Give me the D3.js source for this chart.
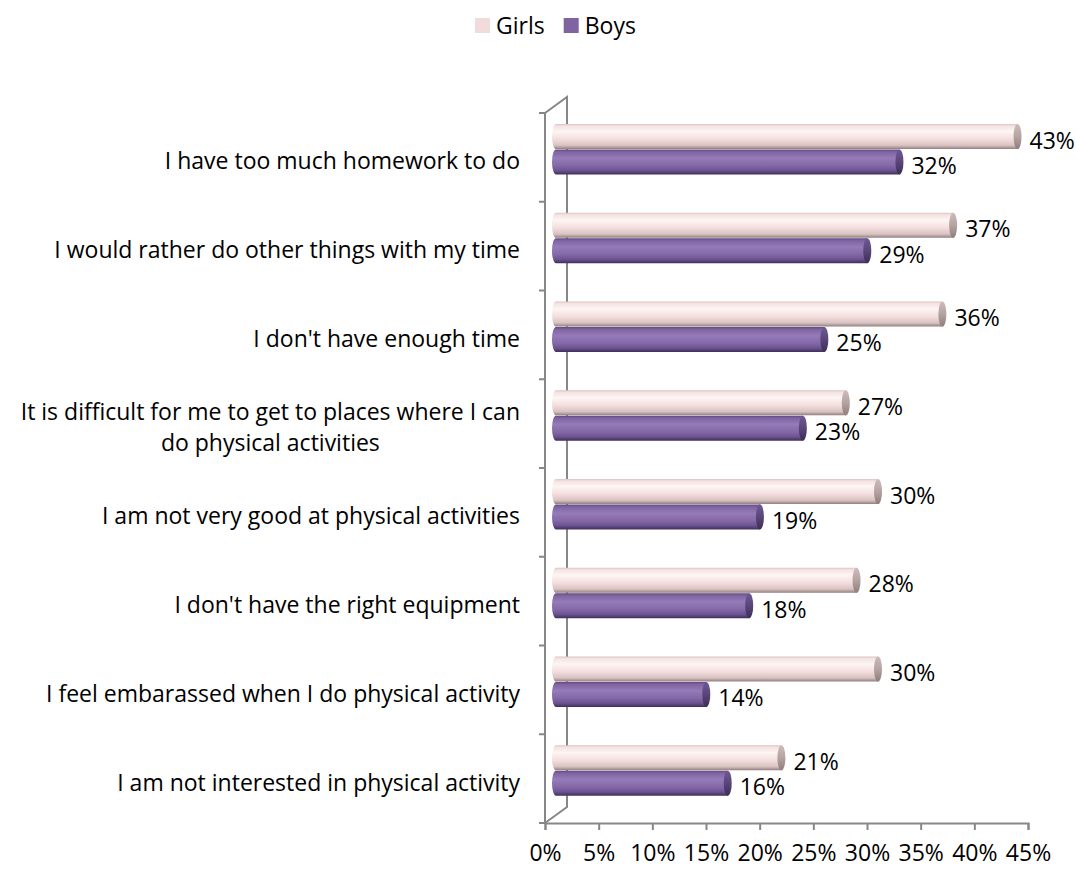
<!DOCTYPE html>
<html>
<head>
<meta charset="utf-8">
<script src="https://cdn.jsdelivr.net/npm/d3@7"></script>
<style>
  body { margin: 0; background: #fff; }
  svg text { font-family: 'Open Sans', sans-serif; fill: #000; }
</style>
</head>
<body>
<svg id="chart" width="1076" height="869"></svg>
<script>
// --- data ---
const categories = [
  'I have too much homework to do',
  'I would rather do other things with my time',
  "I don't have enough time",
  'It is difficult for me to get to places where I can|do physical activities',
  'I am not very good at physical activities',
  "I don't have the right equipment",
  'I feel embarassed when I do physical activity',
  'I am not interested in physical activity'
];
const series = ['Girls', 'Boys'];
const girls = [43, 37, 36, 27, 30, 28, 30, 21];
const boys = [32, 29, 25, 23, 19, 18, 14, 16];
const xTicks = [0, 5, 10, 15, 20, 25, 30, 35, 40, 45];

const values = { Girls: girls, Boys: boys };
const fontSize = 23;
const axisColor = '#878787';

const svg = d3.select('#chart');

// front plane scales, bars sit half way back, the wall all the way back
const x = d3.scaleLinear().domain([0, 45]).range([545, 1028]);
const y = d3.scaleBand().domain(categories).range([113, 823]);
const ySub = d3.scaleBand().domain(series).range([0, y.bandwidth()])
  .paddingInner(0).paddingOuter(0.75);
const wall = { dx: 22, dy: -16 };
const mid = { dx: 11, dy: -8 };

// gradients for the cylinders
const defs = svg.append('defs');
function gradient(id, stops) {
  const g = defs.append('linearGradient').attr('id', id)
    .attr('x1', 0).attr('y1', 0).attr('x2', 0).attr('y2', 1);
  stops.forEach(([o, c]) => g.append('stop').attr('offset', o).attr('stop-color', c));
}
gradient('gGirls', [[0, '#d9c4c3'], [0.08, '#f4e3e2'], [0.3, '#fdf5f4'], [0.6, '#f3dedd'], [0.85, '#d9c3c2'], [1, '#8f7c7b']]);
gradient('gBoys', [[0, '#5e4882'], [0.1, '#8064a2'], [0.35, '#957bb9'], [0.65, '#8468a7'], [0.85, '#6a5290'], [1, '#3f2f58']]);
gradient('cGirls', [[0, '#cdbcbb'], [0.5, '#b5a3a2'], [1, '#8e7d7c']]);
gradient('cBoys', [[0, '#6f5896'], [0.5, '#5a4679'], [1, '#3c2d55']]);

// back wall and axes
const yTop = y.range()[0], yBot = y.range()[1];
svg.append('path')
  .attr('d', `M${x(0)},${yTop}L${x(0) + wall.dx},${yTop + wall.dy}L${x(0) + wall.dx},${yBot + wall.dy}L${x(0)},${yBot}`)
  .attr('fill', 'none').attr('stroke', axisColor).attr('stroke-width', 2);

const yAxis = svg.append('g');
yAxis.append('line')
  .attr('x1', x(0)).attr('x2', x(0)).attr('y1', yTop).attr('y2', yBot)
  .attr('stroke', axisColor).attr('stroke-width', 2);
const bounds = categories.map(c => y(c)).concat([yBot]);
yAxis.selectAll('.tick').data(bounds).join('line')
  .attr('x1', x(0) - 6).attr('x2', x(0))
  .attr('y1', d => d).attr('y2', d => d)
  .attr('stroke', axisColor).attr('stroke-width', 2);

const xAxis = svg.append('g').attr('transform', `translate(0,${yBot})`)
  .call(d3.axisBottom(x).tickValues(xTicks).tickSize(7).tickPadding(15)
    .tickFormat(d => d + '%'));
xAxis.select('.domain').attr('stroke', axisColor).attr('stroke-width', 2);
xAxis.selectAll('.tick line').attr('stroke', axisColor).attr('stroke-width', 2);
xAxis.selectAll('.tick text').attr('font-size', fontSize)
  .attr('font-family', "'Open Sans', sans-serif");

// category labels
const labels = svg.append('g');
categories.forEach(c => {
  const lines = c.split('|');
  const cy = y(c) + y.bandwidth() / 2 + 3;
  const lh = 31;
  const t = labels.append('text')
    .attr('font-size', fontSize)
    .attr('dominant-baseline', 'central');
  lines.forEach((ln, i) => {
    t.append('tspan').attr('x', 520)
      .attr('y', cy + (i - (lines.length - 1) / 2) * lh).text(ln);
  });
  if (lines.length === 1) {
    t.attr('text-anchor', 'end');
  } else {
    const w = d3.max(t.selectAll('tspan').nodes(), n => n.getComputedTextLength());
    t.attr('text-anchor', 'middle').selectAll('tspan').attr('x', 520 - w / 2);
  }
});

// cylinders
const bh = ySub.bandwidth() * 0.99;
const rx = 4;
const bars = svg.append('g');
categories.forEach((c, i) => {
  series.forEach(s => {
    const v = values[s][i];
    const top = y(c) + mid.dy + ySub(s);
    const x0 = x(0) + mid.dx, x1 = x(v) + mid.dx;
    const g = bars.append('g');
    g.append('path')
      .attr('d', `M${x1},${top}L${x0},${top}A${rx},${bh / 2} 0 0 0 ${x0},${top + bh}L${x1},${top + bh}Z`)
      .attr('fill', `url(#g${s})`);
    g.append('ellipse')
      .attr('cx', x1).attr('cy', top + bh / 2).attr('rx', rx).attr('ry', bh / 2)
      .attr('fill', `url(#c${s})`);
    svg.append('text')
      .attr('x', x1 + rx + 8).attr('y', top + bh / 2 + 3)
      .attr('dominant-baseline', 'central')
      .attr('font-size', fontSize)
      .text(v + '%');
  });
});

// legend
const legend = svg.append('g').attr('transform', 'translate(475,25)');
const swatch = { Girls: '#f2dcdb', Boys: '#8064a2' };
let lx = 0;
series.forEach(s => {
  legend.append('rect').attr('x', lx).attr('y', -7).attr('width', 15).attr('height', 15)
    .attr('fill', swatch[s]);
  const t = legend.append('text').attr('x', lx + 21).attr('y', 0)
    .attr('dominant-baseline', 'central').attr('font-size', fontSize).text(s);
  lx += 21 + t.node().getComputedTextLength() + 19;
});
</script>
</body>
</html>
